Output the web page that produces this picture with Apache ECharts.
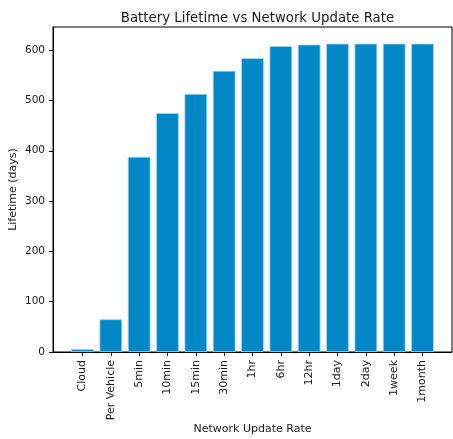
<!DOCTYPE html>
<html>
<head>
<meta charset="utf-8">
<script src="https://cdn.jsdelivr.net/npm/echarts@6/dist/echarts.min.js"></script>
<style>
  html, body { margin: 0; padding: 0; background: #fff; }
  #chart { width: 453px; height: 439px; }
</style>
</head>
<body>
<div id="chart"></div>
<script>
// Update-rate categories and resulting battery lifetime (days)
const categories = ['Cloud', 'Per Vehicle', '5min', '10min', '15min', '30min', '1hr', '6hr', '12hr', '1day', '2day', '1week', '1month'];
const lifetimeDays = [6, 65, 388, 475, 513, 559, 584, 608, 611, 613, 613, 613, 613];
const yTicks = [0, 100, 200, 300, 400, 500, 600];

const FONT = 'DejaVu Sans';
const TEXT = '#1a1a1a';
const positions = categories.map((_, i) => i);

const chart = echarts.init(document.getElementById('chart'), null, { renderer: 'canvas' });
chart.setOption({
  backgroundColor: '#ffffff',
  animation: false,
  title: {
    text: 'Battery Lifetime vs Network Update Rate',
    left: 252.5,
    textAlign: 'center',
    top: 7,
    textStyle: { fontFamily: FONT, fontSize: 13.3, fontWeight: 'normal', color: TEXT }
  },
  grid: {
    left: 53, right: 1, top: 27, bottom: 87,
    containLabel: false,
    outerBoundsMode: 'none',
    show: true, borderColor: '#000', borderWidth: 1
  },
  xAxis: {
    type: 'value',
    min: -1.04,
    max: categories.length - 1 + 1.04,
    name: 'Network Update Rate',
    nameLocation: 'middle',
    nameGap: 72,
    nameMoveOverlap: false,
    nameTextStyle: { fontFamily: FONT, fontSize: 11, color: TEXT },
    splitLine: { show: false },
    axisLine: { onZero: false, lineStyle: { color: '#000', width: 1 } },
    axisTick: { show: true, inside: false, length: 3.9, customValues: positions, lineStyle: { color: '#000' } },
    axisLabel: {
      customValues: positions,
      rotate: 90,
      margin: 8,
      fontFamily: FONT, fontSize: 11, color: TEXT,
      formatter: v => categories[Math.round(v)] || ''
    }
  },
  yAxis: {
    type: 'value',
    min: 0,
    max: 646,
    name: 'Lifetime (days)',
    nameLocation: 'middle',
    nameGap: 34,
    nameMoveOverlap: false,
    nameTextStyle: { fontFamily: FONT, fontSize: 11, color: TEXT },
    splitLine: { show: false },
    axisLine: { show: true, onZero: false, lineStyle: { color: '#000', width: 1 } },
    axisTick: { show: true, inside: false, length: 3.9, customValues: yTicks, lineStyle: { color: '#000' } },
    axisLabel: {
      customValues: yTicks,
      margin: 8,
      fontFamily: FONT, fontSize: 10.5, color: TEXT,
      formatter: v => String(v)
    }
  },
  series: [{
    type: 'bar',
    data: lifetimeDays.map((v, i) => [i, v]),
    barWidth: 22.7,
    itemStyle: { color: '#0288c6', borderColor: '#a6d7ef', borderWidth: 0.8 }
  }]
});
</script>
</body>
</html>
